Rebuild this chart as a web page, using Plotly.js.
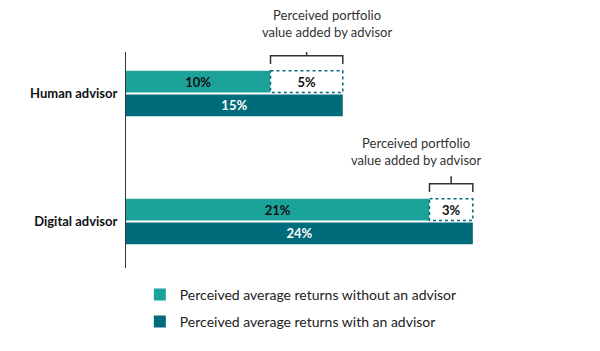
<!DOCTYPE html>
<html><head><meta charset="utf-8">
<script src="https://cdn.plot.ly/plotly-3.0.1.min.js"></script>
<style>html,body{margin:0;padding:0;background:#fff}#chart{width:600px;height:351px}</style>
</head><body><div id="chart"></div>
<script>
// ---- data ----
const categories = ['Human advisor', 'Digital advisor'];
const withoutAdvisor = [10, 21];
const withAdvisor = [15, 24];
const addedValue = withAdvisor.map((v, i) => v - withoutAdvisor[i]);
const seriesNames = ['Perceived average returns without an advisor', 'Perceived average returns with an advisor'];
const bracketLabel = 'Perceived portfolio<br>value added by advisor';

// ---- style ----
const LIGHT = 'rgb(27,163,154)';
const DARK = 'rgb(0,107,122)';
const FONT = 'Lato, "Open Sans", sans-serif';
const bargap = 0.63, bargroupgap = 0.08;
const yRange = [1.3633, -0.3242];
const labelShift = [20, -35];

const pct = v => v + '%';
const toPaper = v => (yRange[0] - v) / (yRange[0] - yRange[1]);

const traces = [
  {type:'bar', orientation:'h', name:seriesNames[0], y:categories, x:withoutAdvisor,
   offsetgroup:'a', marker:{color:LIGHT}, text:withoutAdvisor.map(pct),
   textposition:'inside', insidetextanchor:'middle', textangle:0, constraintext:'none',
   insidetextfont:{color:'#111', size:13, family:FONT, weight:'bold'}, hoverinfo:'skip', legendgroup:'a'},
  {type:'bar', orientation:'h', name:'added', y:categories, x:addedValue, base:withoutAdvisor,
   offsetgroup:'a', marker:{color:'rgba(255,255,255,1)'}, text:addedValue.map(pct),
   textposition:'inside', insidetextanchor:'middle', textangle:0, constraintext:'none',
   insidetextfont:{color:'#111', size:13, family:FONT, weight:'bold'}, showlegend:false, hoverinfo:'skip'},
  {type:'bar', orientation:'h', name:seriesNames[1], y:categories, x:withAdvisor,
   offsetgroup:'b', marker:{color:DARK}, text:withAdvisor.map(pct),
   textposition:'inside', insidetextanchor:'middle', textangle:0, constraintext:'none',
   insidetextfont:{color:'#fff', size:13, family:FONT, weight:'bold'}, hoverinfo:'skip', legendgroup:'b'}
];

// geometry of the top (without-advisor) bar in category units
const groupW = 1 - bargap, slot = groupW / 2, barW = slot * (1 - bargroupgap);
const shapes = [], annotations = [];
categories.forEach((c, i) => {
  const cen = i - groupW / 2 + slot / 2;
  const y0 = cen - barW / 2, y1 = cen + barW / 2;
  const x0 = withoutAdvisor[i], x1 = withAdvisor[i], xm = (x0 + x1) / 2;
  shapes.push({type:'rect', xref:'x', yref:'y', x0:x0, x1:x1, y0:y0, y1:y1,
    line:{color:DARK, width:1.5, dash:'3px,3px'}, fillcolor:'rgba(0,0,0,0)'});
  const yb = y0 - 0.117, tick = 0.064, stem = 0.058;
  shapes.push({type:'path', xref:'x', yref:'y',
    path:`M${x0},${yb+tick} L${x0},${yb} L${x1},${yb} L${x1},${yb+tick} M${xm},${yb} L${xm},${yb-stem}`,
    line:{color:'#333', width:1.5}});
  annotations.push({xref:'x', yref:'paper', x:xm, y:toPaper(yb-stem), xanchor:'center', yanchor:'bottom',
    xshift:labelShift[i], yshift:6, text:bracketLabel, showarrow:false, align:'center',
    font:{family:FONT, size:13, color:'#333'}});
});

const layout = {
  width:600, height:351, paper_bgcolor:'#fff', plot_bgcolor:'#fff',
  margin:{l:126, r:13.2, t:52, b:83},
  barmode:'group', bargap:bargap, bargroupgap:bargroupgap,
  font:{family:FONT, color:'#222'},
  xaxis:{range:[0,31.9], visible:false, fixedrange:true},
  yaxis:{type:'category', categoryarray:categories, range:yRange, autorange:false,
    showline:true, linecolor:'#333', linewidth:1, showgrid:false, zeroline:false,
    ticks:'outside', ticklen:5, tickcolor:'rgba(0,0,0,0)',
    tickfont:{family:FONT, size:13, color:'#111', weight:'bold'}},
  showlegend:true,
  legend:{orientation:'v', x:0.03, xanchor:'left', y:-0.05, yanchor:'top',
    traceorder:'grouped', tracegroupgap:6, font:{family:FONT, size:14, color:'#222'},
    bgcolor:'rgba(0,0,0,0)'},
  shapes:shapes, annotations:annotations
};
Plotly.newPlot('chart', traces, layout, {displayModeBar:false, staticPlot:true});
</script></body></html>
